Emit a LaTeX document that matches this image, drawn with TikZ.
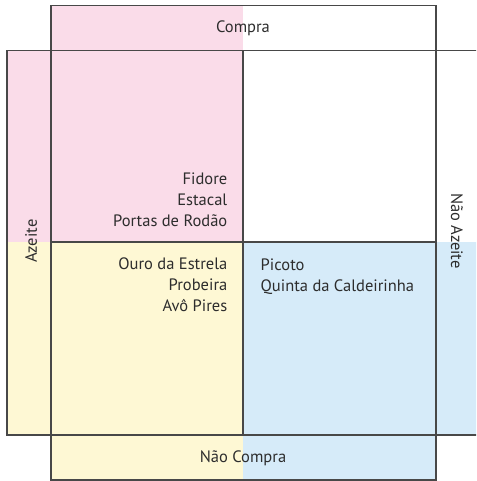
\documentclass[tikz,border=0pt]{standalone}
\usepackage{fontspec}
\setmainfont{PT Sans}
\usetikzlibrary{positioning}
\definecolor{rosa}{RGB}{250,220,233}
\definecolor{amarelo}{RGB}{254,248,212}
\definecolor{azul}{RGB}{214,235,249}
\definecolor{linha}{RGB}{72,72,72}
\definecolor{texto}{RGB}{45,45,45}

\begin{document}
\begin{tikzpicture}[
    x=1pt, y=-1pt,
    borda/.style={draw=linha, line width=1.4pt},
    rotulo/.style={inner sep=0pt, text=texto, font=\fontsize{16.5}{21}\selectfont},
    lista/.style={rotulo, align=#1},
]

\useasboundingbox (0,0) rectangle (476,481);
\clip (0,0) rectangle (476,481);

% ---- colour fields ----
\fill[rosa] (51,5.5) rectangle (243,50.5);
\fill[rosa] (7,50.5) rectangle (243,242);
\fill[amarelo] (7,242) rectangle (243,435);
\fill[amarelo] (51,435) rectangle (243,480);
\fill[azul] (243,242) rectangle (490,435);
\fill[azul] (243,435) rectangle (436,480);

% ---- frames ----
\draw[borda] (51,5.5) rectangle (436,480);
\draw[borda] (7,50.5) rectangle (495,435);
\draw[borda] (243,50.5) -- (243,435);
\draw[borda] (51,242) -- (436,242);

% ---- axis labels ----
\node[rotulo] (compra) at (243,28) {Compra};
\node[rotulo] (naocompra) at (243,458) {Não Compra};
\node[rotulo, rotate=90] (azeite) at (31,241) {Azeite};
\node[rotulo, rotate=-90] (naoazeite) at (457,231) {Não Azeite};

% ---- brands (anchored on the last line) ----
\node[lista=right, anchor=base east] (compraazeite) at (227.5,226.5) {Fidore\\Estacal\\Portas de Rodão};
\node[lista=right, anchor=base east] (naocompraazeite) at (227.5,311.5) {Ouro da Estrela\\Probeira\\Avô Pires};
\node[lista=left, anchor=base west] (naocompranaoazeite) at (260.5,291) {Picoto\\Quinta da Caldeirinha};

\end{tikzpicture}
\end{document}
